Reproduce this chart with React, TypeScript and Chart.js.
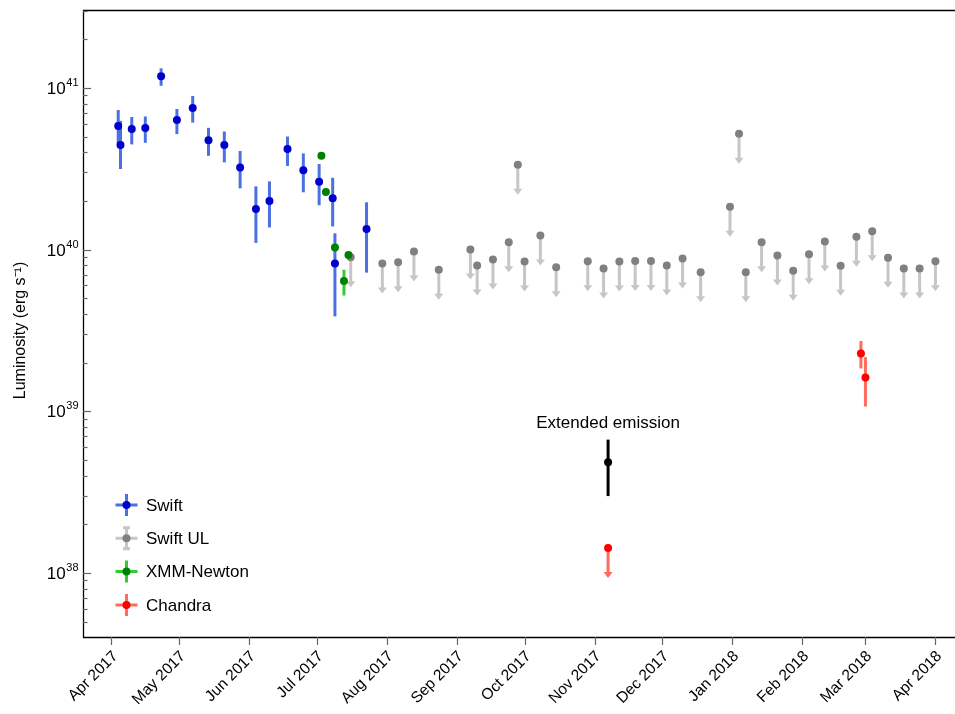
import React, { useEffect, useRef } from 'react';
import { Chart, registerables } from 'chart.js';

Chart.register(...registerables);

// ---------- DATA ----------
const swiftDates = ['2017-04-04', '2017-04-05', '2017-04-10', '2017-04-16', '2017-04-23', '2017-04-30', '2017-05-07', '2017-05-14', '2017-05-21', '2017-05-28', '2017-06-04', '2017-06-10', '2017-06-18', '2017-06-25', '2017-07-02', '2017-07-08', '2017-07-09', '2017-07-23'];
const swiftLum = [5.8e40, 4.43e40, 5.56e40, 5.64e40, 1.18e41, 6.32e40, 7.5e40, 4.75e40, 4.43e40, 3.22e40, 1.78e40, 2.0e40, 4.19e40, 3.09e40, 2.63e40, 2.08e40, 8.2e39, 1.34e40];
const swiftLow = [4.55e40, 3.15e40, 4.47e40, 4.57e40, 1.03e41, 5.18e40, 6.1e40, 3.8e40, 3.46e40, 2.39e40, 1.1e40, 1.37e40, 3.29e40, 2.26e40, 1.88e40, 1.39e40, 3.86e39, 7.2e39];
const swiftHigh = [7.3e40, 6.25e40, 6.6e40, 6.65e40, 1.32e41, 7.4e40, 8.9e40, 5.66e40, 5.37e40, 4.07e40, 2.46e40, 2.64e40, 5.0e40, 3.93e40, 3.38e40, 2.78e40, 1.26e40, 1.96e40];

const swiftUlDates = ['2017-07-16', '2017-07-30', '2017-08-06', '2017-08-13', '2017-08-24', '2017-09-07', '2017-09-10', '2017-09-17', '2017-09-24', '2017-09-28', '2017-10-01', '2017-10-08', '2017-10-15', '2017-10-29', '2017-11-05', '2017-11-12', '2017-11-19', '2017-11-26', '2017-12-03', '2017-12-10', '2017-12-18', '2017-12-31', '2018-01-04', '2018-01-07', '2018-01-14', '2018-01-21', '2018-01-28', '2018-02-04', '2018-02-11', '2018-02-18', '2018-02-25', '2018-03-04', '2018-03-11', '2018-03-18', '2018-03-25', '2018-04-01'];
const swiftUlLum = [8.97e39, 8.2e39, 8.35e39, 9.73e39, 7.5e39, 1.0e40, 7.96e39, 8.67e39, 1.11e40, 3.35e40, 8.43e39, 1.22e40, 7.78e39, 8.47e39, 7.64e39, 8.43e39, 8.5e39, 8.5e39, 7.96e39, 8.8e39, 7.25e39, 1.84e40, 5.2e40, 7.25e39, 1.11e40, 9.2e39, 7.4e39, 9.35e39, 1.12e40, 7.93e39, 1.2e40, 1.3e40, 8.9e39, 7.64e39, 7.64e39, 8.47e39];

const xmmDates = ['2017-07-03', '2017-07-05', '2017-07-09', '2017-07-13', '2017-07-15'];
const xmmLum = [3.8e40, 2.27e40, 1.03e40, 6.4e39, 9.27e39];
const xmmLow = [3.7e40, 2.2e40, 1.0e40, 5.2e39, 9.0e39];
const xmmHigh = [3.9e40, 2.34e40, 1.06e40, 7.5e39, 9.5e39];

const chandraDates = ['2018-02-27', '2018-03-01'];
const chandraLum = [2.28e39, 1.62e39];
const chandraLow = [1.84e39, 1.07e39];
const chandraHigh = [2.72e39, 2.16e39];

const chandraUlDates = ['2017-11-07'];
const chandraUlLum = [1.43e38];

const extendedDates = ['2017-11-07'];
const extendedLum = [4.84e38];
const extendedLow = [2.99e38];
const extendedHigh = [6.68e38];
const extendedLabel = 'Extended emission';

const monthTickDates = ['2017-04-01', '2017-05-01', '2017-06-01', '2017-07-01', '2017-08-01', '2017-09-01', '2017-10-01', '2017-11-01', '2017-12-01', '2018-01-01', '2018-02-01', '2018-03-01', '2018-04-01'];
const monthTickLabels = ['Apr 2017', 'May 2017', 'Jun 2017', 'Jul 2017', 'Aug 2017', 'Sep 2017', 'Oct 2017', 'Nov 2017', 'Dec 2017', 'Jan 2018', 'Feb 2018', 'Mar 2018', 'Apr 2018'];

const yMajorExponents = [38, 39, 40, 41];
const yMin = 4.02e37;
const yMax = 3.03e41;
const xMinDate = '2017-03-19';
const xMaxDate = '2018-04-07';

const legendLabels = ['Swift', 'Swift UL', 'XMM-Newton', 'Chandra'];
const yTitle = 'Luminosity (erg s\u207B\u00B9)';

// ---------- HELPERS ----------
const EPOCH = Date.UTC(2017, 3, 1);
const toDay = (s: string) => {
  const [y, m, d] = s.split('-').map(Number);
  return (Date.UTC(y, m - 1, d) - EPOCH) / 86400000;
};
const pts = (dates: string[], lum: number[]) => dates.map((d, i) => ({ x: toDay(d), y: lum[i] }));

const FONT = '"Liberation Sans", Arial, Helvetica, sans-serif';

const C = {
  swiftDot: '#0000cd',
  swiftBar: '#4a70e2',
  ulDot: '#808080',
  ulBar: '#c6c6c6',
  xmmDot: '#008000',
  xmmBar: '#35c935',
  chDot: '#ff0000',
  chBar: '#ff6b5c',
  ext: '#000000',
};

const errSeries = [
  { dates: swiftDates, lo: swiftLow, hi: swiftHigh, color: C.swiftBar },
  { dates: xmmDates, lo: xmmLow, hi: xmmHigh, color: C.xmmBar },
  { dates: chandraDates, lo: chandraLow, hi: chandraHigh, color: C.chBar },
  { dates: extendedDates, lo: extendedLow, hi: extendedHigh, color: C.ext },
];
const ulSeries = [
  { dates: swiftUlDates, lum: swiftUlLum, color: C.ulBar },
  { dates: chandraUlDates, lum: chandraUlLum, color: C.chBar },
];

const overlay = {
  id: 'overlay',
  beforeDatasetsDraw(chart: any) {
    const { ctx, scales } = chart;
    const xs = scales.x, ys = scales.y;
    ctx.save();
    ctx.lineCap = 'butt';
    for (const s of errSeries) {
      ctx.strokeStyle = s.color;
      ctx.lineWidth = 3;
      s.dates.forEach((d, i) => {
        const px = xs.getPixelForValue(toDay(d));
        ctx.beginPath();
        ctx.moveTo(px, ys.getPixelForValue(s.hi[i]));
        ctx.lineTo(px, ys.getPixelForValue(s.lo[i]));
        ctx.stroke();
      });
    }
    const arrowLen = 30, headH = 6, headW = 9;
    for (const s of ulSeries) {
      ctx.strokeStyle = s.color;
      ctx.fillStyle = s.color;
      ctx.lineWidth = 3;
      s.dates.forEach((d, i) => {
        const px = xs.getPixelForValue(toDay(d));
        const py = ys.getPixelForValue(s.lum[i]);
        ctx.beginPath();
        ctx.moveTo(px, py);
        ctx.lineTo(px, py + arrowLen - headH + 0.5);
        ctx.stroke();
        ctx.beginPath();
        ctx.moveTo(px - headW / 2, py + arrowLen - headH);
        ctx.lineTo(px + headW / 2, py + arrowLen - headH);
        ctx.lineTo(px, py + arrowLen);
        ctx.closePath();
        ctx.fill();
      });
    }
    ctx.restore();
  },
  afterDraw(chart: any) {
    const { ctx, scales, chartArea } = chart;
    const xs = scales.x, ys = scales.y;
    const { left, top, bottom } = chartArea;
    ctx.save();
    ctx.strokeStyle = '#000';
    ctx.lineWidth = 1.3;
    ctx.beginPath();
    ctx.moveTo(left + 0.5, top);
    ctx.lineTo(left + 0.5, bottom + 0.5);
    ctx.lineTo(chart.width, bottom + 0.5);
    ctx.moveTo(left, top + 0.5);
    ctx.lineTo(chart.width, top + 0.5);
    ctx.stroke();

    ctx.strokeStyle = '#666';
    ctx.lineWidth = 1.2;
    for (let e = 37; e <= 41; e++) {
      for (let m = 1; m <= 9; m++) {
        const v = m * Math.pow(10, e);
        if (v < yMin || v > yMax) continue;
        const py = Math.round(ys.getPixelForValue(v)) + 0.5;
        const len = m === 1 ? 8 : 4.5;
        ctx.beginPath();
        ctx.moveTo(left, py);
        ctx.lineTo(left + len, py);
        ctx.stroke();
      }
    }
    monthTickDates.forEach((d) => {
      const px = Math.round(xs.getPixelForValue(toDay(d))) + 0.5;
      ctx.beginPath();
      ctx.moveTo(px, bottom);
      ctx.lineTo(px, bottom + 8);
      ctx.stroke();
    });

    ctx.fillStyle = '#000';
    ctx.textBaseline = 'alphabetic';
    ctx.textAlign = 'left';
    yMajorExponents.forEach((e) => {
      const py = ys.getPixelForValue(Math.pow(10, e));
      ctx.font = `17px ${FONT}`;
      const wBase = ctx.measureText('10').width;
      ctx.font = `11px ${FONT}`;
      const wSup = ctx.measureText(String(e)).width;
      const x0 = left - 5 - wSup - wBase;
      ctx.font = `17px ${FONT}`;
      ctx.fillText('10', x0, py + 6);
      ctx.font = `11px ${FONT}`;
      ctx.fillText(String(e), x0 + wBase + 0.5, py - 2);
    });

    ctx.font = `15.5px ${FONT}`;
    ctx.textAlign = 'right';
    ctx.textBaseline = 'middle';
    monthTickDates.forEach((d, i) => {
      const px = xs.getPixelForValue(toDay(d));
      ctx.save();
      ctx.translate(px + 4, bottom + 17);
      ctx.rotate(-Math.PI / 4);
      ctx.fillText(monthTickLabels[i], 0, 0);
      ctx.restore();
    });

    ctx.save();
    ctx.font = `16px ${FONT}`;
    ctx.textAlign = 'center';
    ctx.textBaseline = 'middle';
    ctx.translate(21, (top + bottom) / 2 + 7);
    ctx.rotate(-Math.PI / 2);
    ctx.fillText(yTitle, 0, 0);
    ctx.restore();

    ctx.font = `17px ${FONT}`;
    ctx.textAlign = 'center';
    ctx.textBaseline = 'middle';
    ctx.fillText(extendedLabel, xs.getPixelForValue(toDay(extendedDates[0])), ys.getPixelForValue(extendedHigh[0]) - 16);

    const legendStyles = [
      { bar: C.swiftBar, dot: C.swiftDot, caps: false },
      { bar: C.ulBar, dot: C.ulDot, caps: true },
      { bar: C.xmmBar, dot: C.xmmDot, caps: false },
      { bar: C.chBar, dot: C.chDot, caps: false },
    ];
    legendLabels.forEach((lab, i) => {
      const cx = 126.5, cy = 505 + i * 33.3;
      const st = legendStyles[i];
      ctx.strokeStyle = st.bar;
      ctx.lineWidth = 3;
      ctx.beginPath();
      ctx.moveTo(cx - 11, cy);
      ctx.lineTo(cx + 11, cy);
      ctx.moveTo(cx, cy - 11);
      ctx.lineTo(cx, cy + 11);
      if (st.caps) {
        ctx.moveTo(cx - 3.5, cy - 10.5);
        ctx.lineTo(cx + 3.5, cy - 10.5);
        ctx.moveTo(cx - 3.5, cy + 10.5);
        ctx.lineTo(cx + 3.5, cy + 10.5);
      }
      ctx.stroke();
      ctx.fillStyle = st.dot;
      ctx.beginPath();
      ctx.arc(cx, cy, 4, 0, Math.PI * 2);
      ctx.fill();
      ctx.fillStyle = '#000';
      ctx.font = `17px ${FONT}`;
      ctx.textAlign = 'left';
      ctx.textBaseline = 'middle';
      ctx.fillText(lab, 146, cy + 1);
    });
    ctx.restore();
  },
};

export default function App() {
  const ref = useRef<HTMLCanvasElement | null>(null);
  useEffect(() => {
    document.body.style.margin = '0';
    const canvas = ref.current!;
    const dot = (color: string) => ({
      showLine: false,
      pointRadius: 4,
      pointHoverRadius: 4,
      pointBorderWidth: 0,
      pointBackgroundColor: color,
      backgroundColor: color,
      borderColor: color,
    });
    const chart = new Chart(canvas, {
      type: 'scatter',
      data: {
        datasets: [
          { label: 'Extended', data: pts(extendedDates, extendedLum), ...dot(C.ext) },
          { label: 'Chandra', data: pts(chandraDates, chandraLum), ...dot(C.chDot) },
          { label: 'Chandra UL', data: pts(chandraUlDates, chandraUlLum), ...dot(C.chDot) },
          { label: 'XMM-Newton', data: pts(xmmDates, xmmLum), ...dot(C.xmmDot) },
          { label: 'Swift', data: pts(swiftDates, swiftLum), ...dot(C.swiftDot) },
          { label: 'Swift UL', data: pts(swiftUlDates, swiftUlLum), ...dot(C.ulDot) },
        ] as any,
      },
      options: {
        responsive: false,
        animation: false,
        events: [],
        layout: { padding: { top: 10, right: 1, left: 0, bottom: 0 } },
        plugins: { legend: { display: false }, tooltip: { enabled: false } },
        scales: {
          x: {
            type: 'linear',
            min: toDay(xMinDate) + 0.4,
            max: toDay(xMaxDate) + 0.9,
            grid: { display: false },
            border: { display: false },
            ticks: { display: false },
            afterFit: (s: any) => { s.height = 77; },
          },
          y: {
            type: 'logarithmic',
            min: yMin,
            max: yMax,
            grid: { display: false },
            border: { display: false },
            ticks: { display: false },
            afterFit: (s: any) => { s.width = 83; },
          },
        },
      } as any,
      plugins: [overlay],
    });
    return () => chart.destroy();
  }, []);
  return <canvas ref={ref} width={955} height={714} style={{ display: 'block' }} />;
}
